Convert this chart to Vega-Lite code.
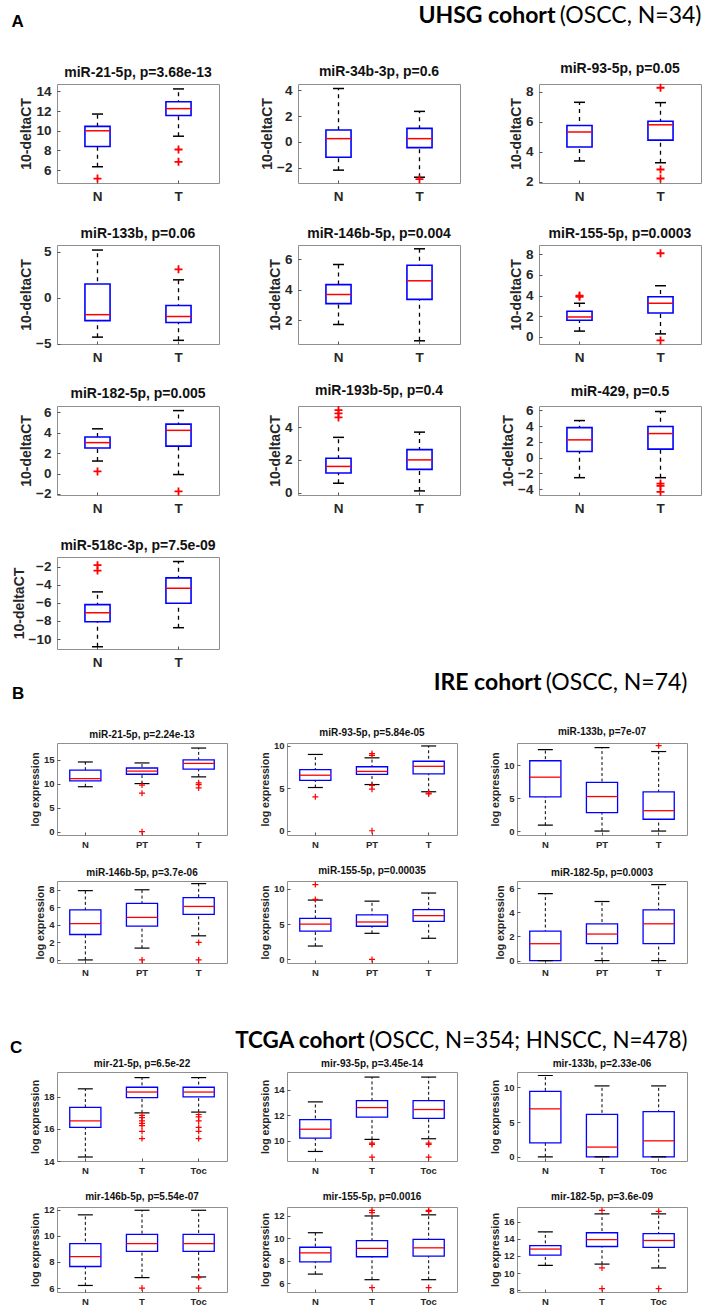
{
"$schema":"https://vega.github.io/schema/vega-lite/v6.json",
"background":"white",
"padding":{"left":9,"top":4,"right":0,"bottom":0},
"data":{"name":"d"},
"datasets":{"d":[
{"p":"A1","g":"N","lo":6.35,"q1":8.4,"md":10.0,"q3":10.45,"hi":11.7},{"p":"A1","g":"T","lo":9.45,"q1":11.55,"md":12.25,"q3":12.95,"hi":14.25},{"p":"A1","g":"N","v":5.15},{"p":"A1","g":"T","v":8.1},{"p":"A1","g":"T","v":6.85},
{"p":"A2","g":"N","lo":-2.2,"q1":-1.2,"md":0.25,"q3":0.92,"hi":4.15},{"p":"A2","g":"T","lo":-2.75,"q1":-0.45,"md":0.25,"q3":1.05,"hi":2.37},{"p":"A2","g":"T","v":-2.9},
{"p":"A3","g":"N","lo":3.37,"q1":4.3,"md":5.3,"q3":5.73,"hi":7.28},{"p":"A3","g":"T","lo":3.25,"q1":4.76,"md":5.78,"q3":6.02,"hi":7.26},{"p":"A3","g":"T","v":8.25},{"p":"A3","g":"T","v":2.8},{"p":"A3","g":"T","v":2.2},
{"p":"A4","g":"N","lo":-4.3,"q1":-2.5,"md":-1.85,"q3":1.5,"hi":5.2},{"p":"A4","g":"T","lo":-4.65,"q1":-2.7,"md":-2.05,"q3":-0.85,"hi":1.95},{"p":"A4","g":"T","v":3.1},
{"p":"A5","g":"N","lo":1.73,"q1":3.1,"md":3.7,"q3":4.35,"hi":5.67},{"p":"A5","g":"T","lo":0.66,"q1":3.38,"md":4.6,"q3":5.62,"hi":6.7},
{"p":"A6","g":"N","lo":0.55,"q1":1.6,"md":1.92,"q3":2.48,"hi":3.25},{"p":"A6","g":"N","v":4.0},{"p":"A6","g":"N","v":3.88},{"p":"A6","g":"T","lo":0.28,"q1":2.3,"md":3.25,"q3":3.88,"hi":4.95},{"p":"A6","g":"T","v":8.1},{"p":"A6","g":"T","v":-0.35},
{"p":"A7","g":"N","lo":1.22,"q1":2.5,"md":3.02,"q3":3.57,"hi":4.37},{"p":"A7","g":"N","v":0.2},{"p":"A7","g":"T","lo":-0.1,"q1":2.68,"md":4.22,"q3":4.83,"hi":6.15},{"p":"A7","g":"T","v":-1.75},
{"p":"A8","g":"N","lo":0.57,"q1":1.2,"md":1.6,"q3":2.1,"hi":3.38},{"p":"A8","g":"N","v":5.05},{"p":"A8","g":"N","v":4.85},{"p":"A8","g":"N","v":4.6},{"p":"A8","g":"T","lo":0.1,"q1":1.42,"md":2.0,"q3":2.63,"hi":3.7},
{"p":"A9","g":"N","lo":-2.55,"q1":0.78,"md":2.25,"q3":3.8,"hi":4.7},{"p":"A9","g":"T","lo":-2.55,"q1":1.08,"md":3.05,"q3":3.95,"hi":5.85},{"p":"A9","g":"T","v":-3.3},{"p":"A9","g":"T","v":-3.6},{"p":"A9","g":"T","v":-4.35},
{"p":"A10","g":"N","lo":-10.85,"q1":-8.1,"md":-7.1,"q3":-6.2,"hi":-4.8},{"p":"A10","g":"N","v":-1.85},{"p":"A10","g":"N","v":-2.45},{"p":"A10","g":"T","lo":-8.75,"q1":-6.05,"md":-4.4,"q3":-3.25,"hi":-1.45},
{"p":"B1","g":"N","lo":9.35,"q1":10.55,"md":11.05,"q3":12.8,"hi":14.5},{"p":"B1","g":"PT","lo":10.0,"q1":11.95,"md":12.6,"q3":13.25,"hi":14.3},{"p":"B1","g":"PT","v":9.7},{"p":"B1","g":"PT","v":8.0},{"p":"B1","g":"PT","v":0},{"p":"B1","g":"T","lo":11.4,"q1":13.0,"md":14.2,"q3":14.95,"hi":17.4},{"p":"B1","g":"T","v":10.15},{"p":"B1","g":"T","v":9.8},{"p":"B1","g":"T","v":9.1},
{"p":"B2","g":"N","lo":5.1,"q1":5.95,"md":6.55,"q3":7.2,"hi":9.0},{"p":"B2","g":"N","v":4.0},{"p":"B2","g":"PT","lo":5.45,"q1":6.65,"md":7.0,"q3":7.55,"hi":8.6},{"p":"B2","g":"PT","v":9.1},{"p":"B2","g":"PT","v":8.9},{"p":"B2","g":"PT","v":5.35},{"p":"B2","g":"PT","v":4.9},{"p":"B2","g":"PT","v":0},{"p":"B2","g":"T","lo":4.6,"q1":6.7,"md":7.6,"q3":8.2,"hi":10.0},{"p":"B2","g":"T","v":4.45},{"p":"B2","g":"T","v":4.35},
{"p":"B3","g":"N","lo":0.9,"q1":5.2,"md":8.2,"q3":10.7,"hi":12.4},{"p":"B3","g":"PT","lo":0,"q1":2.8,"md":5.25,"q3":7.4,"hi":12.7},{"p":"B3","g":"T","lo":0,"q1":1.8,"md":3.1,"q3":5.95,"hi":12.1},{"p":"B3","g":"T","v":13.0},
{"p":"B4","g":"N","lo":0,"q1":2.9,"md":4.15,"q3":5.7,"hi":7.9},{"p":"B4","g":"PT","lo":1.35,"q1":3.85,"md":4.85,"q3":6.45,"hi":8.0},{"p":"B4","g":"PT","v":0},{"p":"B4","g":"T","lo":2.75,"q1":5.2,"md":6.1,"q3":7.1,"hi":8.7},{"p":"B4","g":"T","v":2.0},{"p":"B4","g":"T","v":0},
{"p":"B5","g":"N","lo":1.9,"q1":4.0,"md":5.0,"q3":5.8,"hi":8.4},{"p":"B5","g":"N","v":10.6},{"p":"B5","g":"N","v":8.5},{"p":"B5","g":"PT","lo":3.7,"q1":4.7,"md":5.3,"q3":6.3,"hi":8.25},{"p":"B5","g":"PT","v":0},{"p":"B5","g":"T","lo":3.0,"q1":5.4,"md":6.2,"q3":7.05,"hi":9.4},
{"p":"B6","g":"N","lo":0,"q1":0,"md":1.4,"q3":2.45,"hi":5.55},{"p":"B6","g":"PT","lo":0,"q1":1.4,"md":2.2,"q3":3.05,"hi":4.9},{"p":"B6","g":"T","lo":0,"q1":1.4,"md":3.05,"q3":4.2,"hi":6.3},
{"p":"C1","g":"N","lo":14.25,"q1":16.1,"md":16.5,"q3":17.35,"hi":18.5},{"p":"C1","g":"T","lo":17.0,"q1":17.95,"md":18.3,"q3":18.6,"hi":19.2},{"p":"C1","g":"T","v":16.85},{"p":"C1","g":"T","v":16.7},{"p":"C1","g":"T","v":16.5},{"p":"C1","g":"T","v":16.35},{"p":"C1","g":"T","v":16.2},{"p":"C1","g":"T","v":15.85},{"p":"C1","g":"T","v":15.4},{"p":"C1","g":"Toc","lo":17.05,"q1":18.0,"md":18.3,"q3":18.6,"hi":19.2},{"p":"C1","g":"Toc","v":16.9},{"p":"C1","g":"Toc","v":16.75},{"p":"C1","g":"Toc","v":16.5},{"p":"C1","g":"Toc","v":16.1},{"p":"C1","g":"Toc","v":15.85},{"p":"C1","g":"Toc","v":15.4},
{"p":"C2","g":"N","lo":9.15,"q1":10.2,"md":10.9,"q3":11.65,"hi":13.05},{"p":"C2","g":"T","lo":10.1,"q1":11.85,"md":12.6,"q3":13.15,"hi":15.0},{"p":"C2","g":"T","v":9.8},{"p":"C2","g":"T","v":9.7},{"p":"C2","g":"T","v":8.7},{"p":"C2","g":"Toc","lo":10.15,"q1":11.75,"md":12.45,"q3":13.15,"hi":15.0},{"p":"C2","g":"Toc","v":9.8},{"p":"C2","g":"Toc","v":9.7},{"p":"C2","g":"Toc","v":8.7},
{"p":"C3","g":"N","lo":0,"q1":2.0,"md":6.9,"q3":9.4,"hi":11.7},{"p":"C3","g":"T","lo":0,"q1":0,"md":1.4,"q3":6.1,"hi":10.2},{"p":"C3","g":"Toc","lo":0,"q1":0,"md":2.3,"q3":6.5,"hi":10.2},
{"p":"C4","g":"N","lo":6.2,"q1":7.65,"md":8.4,"q3":9.4,"hi":11.6},{"p":"C4","g":"T","lo":6.8,"q1":8.8,"md":9.4,"q3":10.1,"hi":11.95},{"p":"C4","g":"T","v":6.0},{"p":"C4","g":"Toc","lo":6.85,"q1":8.8,"md":9.4,"q3":10.1,"hi":11.95},{"p":"C4","g":"Toc","v":6.8},{"p":"C4","g":"Toc","v":6.0},
{"p":"C5","g":"N","lo":6.8,"q1":7.9,"md":8.7,"q3":9.2,"hi":10.5},{"p":"C5","g":"T","lo":6.3,"q1":8.35,"md":9.1,"q3":9.8,"hi":12.0},{"p":"C5","g":"T","v":12.5},{"p":"C5","g":"T","v":12.3},{"p":"C5","g":"T","v":5.6},{"p":"C5","g":"Toc","lo":6.3,"q1":8.4,"md":9.15,"q3":9.9,"hi":12.1},{"p":"C5","g":"Toc","v":12.5},{"p":"C5","g":"Toc","v":12.4},{"p":"C5","g":"Toc","v":5.6},
{"p":"C6","g":"N","lo":10.9,"q1":12.1,"md":12.8,"q3":13.2,"hi":14.8},{"p":"C6","g":"T","lo":11.05,"q1":13.1,"md":13.9,"q3":14.7,"hi":16.9},{"p":"C6","g":"T","v":17.3},{"p":"C6","g":"T","v":10.6},{"p":"C6","g":"T","v":8.2},{"p":"C6","g":"Toc","lo":10.6,"q1":13.0,"md":13.8,"q3":14.6,"hi":16.9},{"p":"C6","g":"Toc","v":17.2},{"p":"C6","g":"Toc","v":8.2}
]},
"config":{
"font":"Liberation Sans",
"view":{"stroke":"#8f8f8f","strokeWidth":1},
"axis":{"grid":false,"domain":false,"ticks":true,"tickSize":-3,"tickColor":"#555555","tickWidth":1,"labelColor":"#262626","titleColor":"#262626","labelFont":"Liberation Sans","titleFont":"Liberation Sans","labelFontWeight":"bold","titleFontWeight":"bold","labelFontSize":9.5,"titleFontSize":10.5,"labelPadding":6,"titlePadding":3,"labelOverlap":false},
"axisX":{"labelAngle":0,"labelPadding":7},
"title":{"font":"Liberation Sans","fontSize":10,"fontWeight":"bold","color":"#111111","offset":3,"frame":"group"},
"style":{"big":{"labelFontSize":13.5,"titleFontSize":14,"labelPadding":9,"titlePadding":2}}
},
"spacing":52,
"vconcat":[
{"spacing":3,"vconcat":[
{"title":{"text":"UHSG cohort","anchor":"end","frame":"bounds","font":"Lato","fontSize":23,"fontWeight":"bold","color":"#000000","dx":-146,"offset":-23},
 "vconcat":[{"title":{"text":"(OSCC, N=34)","anchor":"end","frame":"bounds","font":"Lato","fontSize":23,"fontWeight":"normal","color":"#000000","offset":-15},
 "vconcat":[{"title":{"text":"A","anchor":"start","frame":"bounds","font":"Liberation Sans","fontSize":17,"fontWeight":"bold","color":"#000000","offset":31},
 "columns":3,"spacing":{"row":62,"column":79},"bounds":"flush",
 "concat":[
  {"width":162,"height":99,"title":{"text":"miR-21-5p, p=3.68e-13","fontSize":14,"offset":4},"transform":[{"filter":"datum.p=='A1'"}],
   "encoding":{"x":{"field":"g","type":"nominal","sort":["N","T"],"scale":{"paddingInner":0.69,"paddingOuter":0.345},"axis":{"style":"big"},"title":null}},
   "layer":[
    {"mark":{"type":"rule","color":"#000000","strokeDash":[4,4],"strokeWidth":1.3},"encoding":{"y":{"field":"lo","type":"quantitative","scale":{"domain":[4.7,14.75],"nice":false,"zero":false},"axis":{"values":[6,8,10,12,14],"tickCount":20,"format":"d","style":"big","labelOverlap":false},"title":"10-deltaCT"},"y2":{"field":"hi"}}},
    {"mark":{"type":"bar","fill":"#ffffff","stroke":"#0000ff","strokeWidth":1.6,"opacity":1},"encoding":{"y":{"field":"q1","type":"quantitative"},"y2":{"field":"q3"}}},
    {"mark":{"type":"tick","color":"#000000","size":11,"thickness":1.5,"opacity":1},"encoding":{"y":{"field":"lo","type":"quantitative"}}},
    {"mark":{"type":"tick","color":"#000000","size":11,"thickness":1.5,"opacity":1},"encoding":{"y":{"field":"hi","type":"quantitative"}}},
    {"mark":{"type":"tick","color":"#ff0000","size":25,"thickness":1.5,"opacity":1},"encoding":{"y":{"field":"md","type":"quantitative"}}},
    {"mark":{"type":"point","shape":"M-1,0L1,0M0,-1L0,1","filled":false,"color":"#ff0000","strokeWidth":1.8,"size":64,"opacity":1},"encoding":{"y":{"field":"v","type":"quantitative"}}}
   ]},
  {"width":162,"height":99,"title":{"text":"miR-34b-3p, p=0.6","fontSize":14,"offset":4},"transform":[{"filter":"datum.p=='A2'"}],
   "encoding":{"x":{"field":"g","type":"nominal","sort":["N","T"],"scale":{"paddingInner":0.69,"paddingOuter":0.345},"axis":{"style":"big"},"title":null}},
   "layer":[
    {"mark":{"type":"rule","color":"#000000","strokeDash":[4,4],"strokeWidth":1.3},"encoding":{"y":{"field":"lo","type":"quantitative","scale":{"domain":[-3.2,4.5],"nice":false,"zero":false},"axis":{"values":[-2,0,2,4],"tickCount":20,"format":"d","style":"big","labelOverlap":false},"title":"10-deltaCT"},"y2":{"field":"hi"}}},
    {"mark":{"type":"bar","fill":"#ffffff","stroke":"#0000ff","strokeWidth":1.6,"opacity":1},"encoding":{"y":{"field":"q1","type":"quantitative"},"y2":{"field":"q3"}}},
    {"mark":{"type":"tick","color":"#000000","size":11,"thickness":1.5,"opacity":1},"encoding":{"y":{"field":"lo","type":"quantitative"}}},
    {"mark":{"type":"tick","color":"#000000","size":11,"thickness":1.5,"opacity":1},"encoding":{"y":{"field":"hi","type":"quantitative"}}},
    {"mark":{"type":"tick","color":"#ff0000","size":25,"thickness":1.5,"opacity":1},"encoding":{"y":{"field":"md","type":"quantitative"}}},
    {"mark":{"type":"point","shape":"M-1,0L1,0M0,-1L0,1","filled":false,"color":"#ff0000","strokeWidth":1.8,"size":64,"opacity":1},"encoding":{"y":{"field":"v","type":"quantitative"}}}
   ]},
  {"width":162,"height":99,"title":{"text":"miR-93-5p, p=0.05","fontSize":14,"offset":4},"transform":[{"filter":"datum.p=='A3'"}],
   "encoding":{"x":{"field":"g","type":"nominal","sort":["N","T"],"scale":{"paddingInner":0.69,"paddingOuter":0.345},"axis":{"style":"big"},"title":null}},
   "layer":[
    {"mark":{"type":"rule","color":"#000000","strokeDash":[4,4],"strokeWidth":1.3},"encoding":{"y":{"field":"lo","type":"quantitative","scale":{"domain":[1.9,8.5],"nice":false,"zero":false},"axis":{"values":[2,4,6,8],"tickCount":20,"format":"d","style":"big","labelOverlap":false},"title":"10-deltaCT"},"y2":{"field":"hi"}}},
    {"mark":{"type":"bar","fill":"#ffffff","stroke":"#0000ff","strokeWidth":1.6,"opacity":1},"encoding":{"y":{"field":"q1","type":"quantitative"},"y2":{"field":"q3"}}},
    {"mark":{"type":"tick","color":"#000000","size":11,"thickness":1.5,"opacity":1},"encoding":{"y":{"field":"lo","type":"quantitative"}}},
    {"mark":{"type":"tick","color":"#000000","size":11,"thickness":1.5,"opacity":1},"encoding":{"y":{"field":"hi","type":"quantitative"}}},
    {"mark":{"type":"tick","color":"#ff0000","size":25,"thickness":1.5,"opacity":1},"encoding":{"y":{"field":"md","type":"quantitative"}}},
    {"mark":{"type":"point","shape":"M-1,0L1,0M0,-1L0,1","filled":false,"color":"#ff0000","strokeWidth":1.8,"size":64,"opacity":1},"encoding":{"y":{"field":"v","type":"quantitative"}}}
   ]},
  {"width":162,"height":99,"title":{"text":"miR-133b, p=0.06","fontSize":14,"offset":4},"transform":[{"filter":"datum.p=='A4'"}],
   "encoding":{"x":{"field":"g","type":"nominal","sort":["N","T"],"scale":{"paddingInner":0.69,"paddingOuter":0.345},"axis":{"style":"big"},"title":null}},
   "layer":[
    {"mark":{"type":"rule","color":"#000000","strokeDash":[4,4],"strokeWidth":1.3},"encoding":{"y":{"field":"lo","type":"quantitative","scale":{"domain":[-5.05,5.75],"nice":false,"zero":false},"axis":{"values":[-5,0,5],"tickCount":20,"format":"d","style":"big","labelOverlap":false},"title":"10-deltaCT"},"y2":{"field":"hi"}}},
    {"mark":{"type":"bar","fill":"#ffffff","stroke":"#0000ff","strokeWidth":1.6,"opacity":1},"encoding":{"y":{"field":"q1","type":"quantitative"},"y2":{"field":"q3"}}},
    {"mark":{"type":"tick","color":"#000000","size":11,"thickness":1.5,"opacity":1},"encoding":{"y":{"field":"lo","type":"quantitative"}}},
    {"mark":{"type":"tick","color":"#000000","size":11,"thickness":1.5,"opacity":1},"encoding":{"y":{"field":"hi","type":"quantitative"}}},
    {"mark":{"type":"tick","color":"#ff0000","size":25,"thickness":1.5,"opacity":1},"encoding":{"y":{"field":"md","type":"quantitative"}}},
    {"mark":{"type":"point","shape":"M-1,0L1,0M0,-1L0,1","filled":false,"color":"#ff0000","strokeWidth":1.8,"size":64,"opacity":1},"encoding":{"y":{"field":"v","type":"quantitative"}}}
   ]},
  {"width":162,"height":99,"title":{"text":"miR-146b-5p, p=0.004","fontSize":14,"offset":4},"transform":[{"filter":"datum.p=='A5'"}],
   "encoding":{"x":{"field":"g","type":"nominal","sort":["N","T"],"scale":{"paddingInner":0.69,"paddingOuter":0.345},"axis":{"style":"big"},"title":null}},
   "layer":[
    {"mark":{"type":"rule","color":"#000000","strokeDash":[4,4],"strokeWidth":1.3},"encoding":{"y":{"field":"lo","type":"quantitative","scale":{"domain":[0.45,6.95],"nice":false,"zero":false},"axis":{"values":[2,4,6],"tickCount":20,"format":"d","style":"big","labelOverlap":false},"title":"10-deltaCT"},"y2":{"field":"hi"}}},
    {"mark":{"type":"bar","fill":"#ffffff","stroke":"#0000ff","strokeWidth":1.6,"opacity":1},"encoding":{"y":{"field":"q1","type":"quantitative"},"y2":{"field":"q3"}}},
    {"mark":{"type":"tick","color":"#000000","size":11,"thickness":1.5,"opacity":1},"encoding":{"y":{"field":"lo","type":"quantitative"}}},
    {"mark":{"type":"tick","color":"#000000","size":11,"thickness":1.5,"opacity":1},"encoding":{"y":{"field":"hi","type":"quantitative"}}},
    {"mark":{"type":"tick","color":"#ff0000","size":25,"thickness":1.5,"opacity":1},"encoding":{"y":{"field":"md","type":"quantitative"}}},
    {"mark":{"type":"point","shape":"M-1,0L1,0M0,-1L0,1","filled":false,"color":"#ff0000","strokeWidth":1.8,"size":64,"opacity":1},"encoding":{"y":{"field":"v","type":"quantitative"}}}
   ]},
  {"width":162,"height":99,"title":{"text":"miR-155-5p, p=0.0003","fontSize":14,"offset":4},"transform":[{"filter":"datum.p=='A6'"}],
   "encoding":{"x":{"field":"g","type":"nominal","sort":["N","T"],"scale":{"paddingInner":0.69,"paddingOuter":0.345},"axis":{"style":"big"},"title":null}},
   "layer":[
    {"mark":{"type":"rule","color":"#000000","strokeDash":[4,4],"strokeWidth":1.3},"encoding":{"y":{"field":"lo","type":"quantitative","scale":{"domain":[-0.7,8.9],"nice":false,"zero":false},"axis":{"values":[0,2,4,6,8],"tickCount":20,"format":"d","style":"big","labelOverlap":false},"title":"10-deltaCT"},"y2":{"field":"hi"}}},
    {"mark":{"type":"bar","fill":"#ffffff","stroke":"#0000ff","strokeWidth":1.6,"opacity":1},"encoding":{"y":{"field":"q1","type":"quantitative"},"y2":{"field":"q3"}}},
    {"mark":{"type":"tick","color":"#000000","size":11,"thickness":1.5,"opacity":1},"encoding":{"y":{"field":"lo","type":"quantitative"}}},
    {"mark":{"type":"tick","color":"#000000","size":11,"thickness":1.5,"opacity":1},"encoding":{"y":{"field":"hi","type":"quantitative"}}},
    {"mark":{"type":"tick","color":"#ff0000","size":25,"thickness":1.5,"opacity":1},"encoding":{"y":{"field":"md","type":"quantitative"}}},
    {"mark":{"type":"point","shape":"M-1,0L1,0M0,-1L0,1","filled":false,"color":"#ff0000","strokeWidth":1.8,"size":64,"opacity":1},"encoding":{"y":{"field":"v","type":"quantitative"}}}
   ]},
  {"width":162,"height":89,"title":{"text":"miR-182-5p, p=0.005","fontSize":14,"offset":4},"transform":[{"filter":"datum.p=='A7'"}],
   "encoding":{"x":{"field":"g","type":"nominal","sort":["N","T"],"scale":{"paddingInner":0.69,"paddingOuter":0.345},"axis":{"style":"big"},"title":null}},
   "layer":[
    {"mark":{"type":"rule","color":"#000000","strokeDash":[4,4],"strokeWidth":1.3},"encoding":{"y":{"field":"lo","type":"quantitative","scale":{"domain":[-2.1,6.6],"nice":false,"zero":false},"axis":{"values":[-2,0,2,4,6],"tickCount":20,"format":"d","style":"big","labelOverlap":false},"title":"10-deltaCT"},"y2":{"field":"hi"}}},
    {"mark":{"type":"bar","fill":"#ffffff","stroke":"#0000ff","strokeWidth":1.6,"opacity":1},"encoding":{"y":{"field":"q1","type":"quantitative"},"y2":{"field":"q3"}}},
    {"mark":{"type":"tick","color":"#000000","size":11,"thickness":1.5,"opacity":1},"encoding":{"y":{"field":"lo","type":"quantitative"}}},
    {"mark":{"type":"tick","color":"#000000","size":11,"thickness":1.5,"opacity":1},"encoding":{"y":{"field":"hi","type":"quantitative"}}},
    {"mark":{"type":"tick","color":"#ff0000","size":25,"thickness":1.5,"opacity":1},"encoding":{"y":{"field":"md","type":"quantitative"}}},
    {"mark":{"type":"point","shape":"M-1,0L1,0M0,-1L0,1","filled":false,"color":"#ff0000","strokeWidth":1.8,"size":64,"opacity":1},"encoding":{"y":{"field":"v","type":"quantitative"}}}
   ]},
  {"width":162,"height":89,"title":{"text":"miR-193b-5p, p=0.4","fontSize":14,"offset":4},"transform":[{"filter":"datum.p=='A8'"}],
   "encoding":{"x":{"field":"g","type":"nominal","sort":["N","T"],"scale":{"paddingInner":0.69,"paddingOuter":0.345},"axis":{"style":"big"},"title":null}},
   "layer":[
    {"mark":{"type":"rule","color":"#000000","strokeDash":[4,4],"strokeWidth":1.3},"encoding":{"y":{"field":"lo","type":"quantitative","scale":{"domain":[-0.15,5.3],"nice":false,"zero":false},"axis":{"values":[0,2,4],"tickCount":20,"format":"d","style":"big","labelOverlap":false},"title":"10-deltaCT"},"y2":{"field":"hi"}}},
    {"mark":{"type":"bar","fill":"#ffffff","stroke":"#0000ff","strokeWidth":1.6,"opacity":1},"encoding":{"y":{"field":"q1","type":"quantitative"},"y2":{"field":"q3"}}},
    {"mark":{"type":"tick","color":"#000000","size":11,"thickness":1.5,"opacity":1},"encoding":{"y":{"field":"lo","type":"quantitative"}}},
    {"mark":{"type":"tick","color":"#000000","size":11,"thickness":1.5,"opacity":1},"encoding":{"y":{"field":"hi","type":"quantitative"}}},
    {"mark":{"type":"tick","color":"#ff0000","size":25,"thickness":1.5,"opacity":1},"encoding":{"y":{"field":"md","type":"quantitative"}}},
    {"mark":{"type":"point","shape":"M-1,0L1,0M0,-1L0,1","filled":false,"color":"#ff0000","strokeWidth":1.8,"size":64,"opacity":1},"encoding":{"y":{"field":"v","type":"quantitative"}}}
   ]},
  {"width":162,"height":89,"title":{"text":"miR-429, p=0.5","fontSize":14,"offset":4},"transform":[{"filter":"datum.p=='A9'"}],
   "encoding":{"x":{"field":"g","type":"nominal","sort":["N","T"],"scale":{"paddingInner":0.69,"paddingOuter":0.345},"axis":{"style":"big"},"title":null}},
   "layer":[
    {"mark":{"type":"rule","color":"#000000","strokeDash":[4,4],"strokeWidth":1.3},"encoding":{"y":{"field":"lo","type":"quantitative","scale":{"domain":[-4.75,6.55],"nice":false,"zero":false},"axis":{"values":[-4,-2,0,2,4,6],"tickCount":20,"format":"d","style":"big","labelOverlap":false},"title":"10-deltaCT"},"y2":{"field":"hi"}}},
    {"mark":{"type":"bar","fill":"#ffffff","stroke":"#0000ff","strokeWidth":1.6,"opacity":1},"encoding":{"y":{"field":"q1","type":"quantitative"},"y2":{"field":"q3"}}},
    {"mark":{"type":"tick","color":"#000000","size":11,"thickness":1.5,"opacity":1},"encoding":{"y":{"field":"lo","type":"quantitative"}}},
    {"mark":{"type":"tick","color":"#000000","size":11,"thickness":1.5,"opacity":1},"encoding":{"y":{"field":"hi","type":"quantitative"}}},
    {"mark":{"type":"tick","color":"#ff0000","size":25,"thickness":1.5,"opacity":1},"encoding":{"y":{"field":"md","type":"quantitative"}}},
    {"mark":{"type":"point","shape":"M-1,0L1,0M0,-1L0,1","filled":false,"color":"#ff0000","strokeWidth":1.8,"size":64,"opacity":1},"encoding":{"y":{"field":"v","type":"quantitative"}}}
   ]},
  {"width":162,"height":92,"title":{"text":"miR-518c-3p, p=7.5e-09","fontSize":14,"offset":4},"transform":[{"filter":"datum.p=='A10'"}],
   "encoding":{"x":{"field":"g","type":"nominal","sort":["N","T"],"scale":{"paddingInner":0.69,"paddingOuter":0.345},"axis":{"style":"big"},"title":null}},
   "layer":[
    {"mark":{"type":"rule","color":"#000000","strokeDash":[4,4],"strokeWidth":1.3},"encoding":{"y":{"field":"lo","type":"quantitative","scale":{"domain":[-11.1,-0.95],"nice":false,"zero":false},"axis":{"values":[-10,-8,-6,-4,-2],"tickCount":20,"format":"d","style":"big","labelOverlap":false},"title":"10-deltaCT"},"y2":{"field":"hi"}}},
    {"mark":{"type":"bar","fill":"#ffffff","stroke":"#0000ff","strokeWidth":1.6,"opacity":1},"encoding":{"y":{"field":"q1","type":"quantitative"},"y2":{"field":"q3"}}},
    {"mark":{"type":"tick","color":"#000000","size":11,"thickness":1.5,"opacity":1},"encoding":{"y":{"field":"lo","type":"quantitative"}}},
    {"mark":{"type":"tick","color":"#000000","size":11,"thickness":1.5,"opacity":1},"encoding":{"y":{"field":"hi","type":"quantitative"}}},
    {"mark":{"type":"tick","color":"#ff0000","size":25,"thickness":1.5,"opacity":1},"encoding":{"y":{"field":"md","type":"quantitative"}}},
    {"mark":{"type":"point","shape":"M-1,0L1,0M0,-1L0,1","filled":false,"color":"#ff0000","strokeWidth":1.8,"size":64,"opacity":1},"encoding":{"y":{"field":"v","type":"quantitative"}}}
   ]}
 ]}]}]},
{"title":{"text":"IRE cohort","anchor":"end","frame":"bounds","font":"Lato","fontSize":23,"fontWeight":"bold","color":"#000000","dx":-146,"offset":-23},
 "vconcat":[{"title":{"text":"(OSCC, N=74)","anchor":"end","frame":"bounds","font":"Lato","fontSize":23,"fontWeight":"normal","color":"#000000","offset":-10},
 "vconcat":[{"title":{"text":"B","anchor":"start","frame":"bounds","font":"Liberation Sans","fontSize":17,"fontWeight":"bold","color":"#000000","offset":23.5,"dx":-18},
 "columns":3,"spacing":{"row":46,"column":60},"bounds":"flush",
 "concat":[
  {"width":170,"height":92,"title":"miR-21-5p, p=2.24e-13","transform":[{"filter":"datum.p=='B1'"}],
   "encoding":{"x":{"field":"g","type":"nominal","sort":["N","PT","T"],"scale":{"paddingInner":0.45,"paddingOuter":0.225},"title":null}},
   "layer":[
    {"mark":{"type":"rule","color":"#000000","strokeDash":[3,2.5],"strokeWidth":1},"encoding":{"y":{"field":"lo","type":"quantitative","scale":{"domain":[-0.7,18.45],"nice":false,"zero":false},"axis":{"values":[0,5,10,15],"tickCount":20,"format":"d","labelOverlap":false},"title":"log expression"},"y2":{"field":"hi"}}},
    {"mark":{"type":"bar","fill":"#ffffff","stroke":"#0000ff","strokeWidth":1.3,"opacity":1},"encoding":{"y":{"field":"q1","type":"quantitative"},"y2":{"field":"q3"}}},
    {"mark":{"type":"tick","color":"#000000","size":15,"thickness":1.2,"opacity":1},"encoding":{"y":{"field":"lo","type":"quantitative"}}},
    {"mark":{"type":"tick","color":"#000000","size":15,"thickness":1.2,"opacity":1},"encoding":{"y":{"field":"hi","type":"quantitative"}}},
    {"mark":{"type":"tick","color":"#ff0000","size":31,"thickness":1.3,"opacity":1},"encoding":{"y":{"field":"md","type":"quantitative"}}},
    {"mark":{"type":"point","shape":"M-1,0L1,0M0,-1L0,1","filled":false,"color":"#ff0000","strokeWidth":1.2,"size":36,"opacity":1},"encoding":{"y":{"field":"v","type":"quantitative"}}}
   ]},
  {"width":170,"height":92,"title":"miR-93-5p, p=5.84e-05","transform":[{"filter":"datum.p=='B2'"}],
   "encoding":{"x":{"field":"g","type":"nominal","sort":["N","PT","T"],"scale":{"paddingInner":0.45,"paddingOuter":0.225},"title":null}},
   "layer":[
    {"mark":{"type":"rule","color":"#000000","strokeDash":[3,2.5],"strokeWidth":1},"encoding":{"y":{"field":"lo","type":"quantitative","scale":{"domain":[-0.5,10.35],"nice":false,"zero":false},"axis":{"values":[0,5,10],"tickCount":20,"format":"d","labelOverlap":false},"title":"log expression"},"y2":{"field":"hi"}}},
    {"mark":{"type":"bar","fill":"#ffffff","stroke":"#0000ff","strokeWidth":1.3,"opacity":1},"encoding":{"y":{"field":"q1","type":"quantitative"},"y2":{"field":"q3"}}},
    {"mark":{"type":"tick","color":"#000000","size":15,"thickness":1.2,"opacity":1},"encoding":{"y":{"field":"lo","type":"quantitative"}}},
    {"mark":{"type":"tick","color":"#000000","size":15,"thickness":1.2,"opacity":1},"encoding":{"y":{"field":"hi","type":"quantitative"}}},
    {"mark":{"type":"tick","color":"#ff0000","size":31,"thickness":1.3,"opacity":1},"encoding":{"y":{"field":"md","type":"quantitative"}}},
    {"mark":{"type":"point","shape":"M-1,0L1,0M0,-1L0,1","filled":false,"color":"#ff0000","strokeWidth":1.2,"size":36,"opacity":1},"encoding":{"y":{"field":"v","type":"quantitative"}}}
   ]},
  {"width":170,"height":92,"title":"miR-133b, p=7e-07","transform":[{"filter":"datum.p=='B3'"}],
   "encoding":{"x":{"field":"g","type":"nominal","sort":["N","PT","T"],"scale":{"paddingInner":0.45,"paddingOuter":0.225},"title":null}},
   "layer":[
    {"mark":{"type":"rule","color":"#000000","strokeDash":[3,2.5],"strokeWidth":1},"encoding":{"y":{"field":"lo","type":"quantitative","scale":{"domain":[-0.6,13.4],"nice":false,"zero":false},"axis":{"values":[0,5,10],"tickCount":20,"format":"d","labelOverlap":false},"title":"log expression"},"y2":{"field":"hi"}}},
    {"mark":{"type":"bar","fill":"#ffffff","stroke":"#0000ff","strokeWidth":1.3,"opacity":1},"encoding":{"y":{"field":"q1","type":"quantitative"},"y2":{"field":"q3"}}},
    {"mark":{"type":"tick","color":"#000000","size":15,"thickness":1.2,"opacity":1},"encoding":{"y":{"field":"lo","type":"quantitative"}}},
    {"mark":{"type":"tick","color":"#000000","size":15,"thickness":1.2,"opacity":1},"encoding":{"y":{"field":"hi","type":"quantitative"}}},
    {"mark":{"type":"tick","color":"#ff0000","size":31,"thickness":1.3,"opacity":1},"encoding":{"y":{"field":"md","type":"quantitative"}}},
    {"mark":{"type":"point","shape":"M-1,0L1,0M0,-1L0,1","filled":false,"color":"#ff0000","strokeWidth":1.2,"size":36,"opacity":1},"encoding":{"y":{"field":"v","type":"quantitative"}}}
   ]},
  {"width":170,"height":82,"title":"miR-146b-5p, p=3.7e-06","transform":[{"filter":"datum.p=='B4'"}],
   "encoding":{"x":{"field":"g","type":"nominal","sort":["N","PT","T"],"scale":{"paddingInner":0.45,"paddingOuter":0.225},"title":null}},
   "layer":[
    {"mark":{"type":"rule","color":"#000000","strokeDash":[3,2.5],"strokeWidth":1},"encoding":{"y":{"field":"lo","type":"quantitative","scale":{"domain":[-0.35,9.0],"nice":false,"zero":false},"axis":{"values":[0,2,4,6,8],"tickCount":20,"format":"d","labelOverlap":false},"title":"log expression"},"y2":{"field":"hi"}}},
    {"mark":{"type":"bar","fill":"#ffffff","stroke":"#0000ff","strokeWidth":1.3,"opacity":1},"encoding":{"y":{"field":"q1","type":"quantitative"},"y2":{"field":"q3"}}},
    {"mark":{"type":"tick","color":"#000000","size":15,"thickness":1.2,"opacity":1},"encoding":{"y":{"field":"lo","type":"quantitative"}}},
    {"mark":{"type":"tick","color":"#000000","size":15,"thickness":1.2,"opacity":1},"encoding":{"y":{"field":"hi","type":"quantitative"}}},
    {"mark":{"type":"tick","color":"#ff0000","size":31,"thickness":1.3,"opacity":1},"encoding":{"y":{"field":"md","type":"quantitative"}}},
    {"mark":{"type":"point","shape":"M-1,0L1,0M0,-1L0,1","filled":false,"color":"#ff0000","strokeWidth":1.2,"size":36,"opacity":1},"encoding":{"y":{"field":"v","type":"quantitative"}}}
   ]},
  {"width":170,"height":82,"title":"miR-155-5p, p=0.00035","transform":[{"filter":"datum.p=='B5'"}],
   "encoding":{"x":{"field":"g","type":"nominal","sort":["N","PT","T"],"scale":{"paddingInner":0.45,"paddingOuter":0.225},"title":null}},
   "layer":[
    {"mark":{"type":"rule","color":"#000000","strokeDash":[3,2.5],"strokeWidth":1},"encoding":{"y":{"field":"lo","type":"quantitative","scale":{"domain":[-0.5,11.1],"nice":false,"zero":false},"axis":{"values":[0,5,10],"tickCount":20,"format":"d","labelOverlap":false},"title":"log expression"},"y2":{"field":"hi"}}},
    {"mark":{"type":"bar","fill":"#ffffff","stroke":"#0000ff","strokeWidth":1.3,"opacity":1},"encoding":{"y":{"field":"q1","type":"quantitative"},"y2":{"field":"q3"}}},
    {"mark":{"type":"tick","color":"#000000","size":15,"thickness":1.2,"opacity":1},"encoding":{"y":{"field":"lo","type":"quantitative"}}},
    {"mark":{"type":"tick","color":"#000000","size":15,"thickness":1.2,"opacity":1},"encoding":{"y":{"field":"hi","type":"quantitative"}}},
    {"mark":{"type":"tick","color":"#ff0000","size":31,"thickness":1.3,"opacity":1},"encoding":{"y":{"field":"md","type":"quantitative"}}},
    {"mark":{"type":"point","shape":"M-1,0L1,0M0,-1L0,1","filled":false,"color":"#ff0000","strokeWidth":1.2,"size":36,"opacity":1},"encoding":{"y":{"field":"v","type":"quantitative"}}}
   ]},
  {"width":170,"height":82,"title":"miR-182-5p, p=0.0003","transform":[{"filter":"datum.p=='B6'"}],
   "encoding":{"x":{"field":"g","type":"nominal","sort":["N","PT","T"],"scale":{"paddingInner":0.45,"paddingOuter":0.225},"title":null}},
   "layer":[
    {"mark":{"type":"rule","color":"#000000","strokeDash":[3,2.5],"strokeWidth":1},"encoding":{"y":{"field":"lo","type":"quantitative","scale":{"domain":[-0.2,6.6],"nice":false,"zero":false},"axis":{"values":[0,2,4,6],"tickCount":20,"format":"d","labelOverlap":false},"title":"log expression"},"y2":{"field":"hi"}}},
    {"mark":{"type":"bar","fill":"#ffffff","stroke":"#0000ff","strokeWidth":1.3,"opacity":1},"encoding":{"y":{"field":"q1","type":"quantitative"},"y2":{"field":"q3"}}},
    {"mark":{"type":"tick","color":"#000000","size":15,"thickness":1.2,"opacity":1},"encoding":{"y":{"field":"lo","type":"quantitative"}}},
    {"mark":{"type":"tick","color":"#000000","size":15,"thickness":1.2,"opacity":1},"encoding":{"y":{"field":"hi","type":"quantitative"}}},
    {"mark":{"type":"tick","color":"#ff0000","size":31,"thickness":1.3,"opacity":1},"encoding":{"y":{"field":"md","type":"quantitative"}}},
    {"mark":{"type":"point","shape":"M-1,0L1,0M0,-1L0,1","filled":false,"color":"#ff0000","strokeWidth":1.2,"size":36,"opacity":1},"encoding":{"y":{"field":"v","type":"quantitative"}}}
   ]}
 ]}]}]}
]},
{"title":{"text":"TCGA cohort","anchor":"end","frame":"bounds","font":"Lato","fontSize":22.4,"fontWeight":"bold","color":"#000000","dx":-323,"offset":-22.4},
 "vconcat":[{"title":{"text":"(OSCC, N=354; HNSCC, N=478)","anchor":"end","frame":"bounds","font":"Lato","fontSize":22.4,"fontWeight":"normal","color":"#000000","offset":-13},
 "vconcat":[{"title":{"text":"C","anchor":"start","frame":"bounds","font":"Liberation Sans","fontSize":17,"fontWeight":"bold","color":"#000000","offset":1.5,"dx":-20},
 "columns":3,"spacing":{"row":46,"column":60},"bounds":"flush",
 "concat":[
  {"width":170,"height":89,"title":"mir-21-5p, p=6.5e-22","transform":[{"filter":"datum.p=='C1'"}],
   "encoding":{"x":{"field":"g","type":"nominal","sort":["N","T","Toc"],"scale":{"paddingInner":0.45,"paddingOuter":0.225},"title":null}},
   "layer":[
    {"mark":{"type":"rule","color":"#000000","strokeDash":[3,2.5],"strokeWidth":1},"encoding":{"y":{"field":"lo","type":"quantitative","scale":{"domain":[14.0,19.55],"nice":false,"zero":false},"axis":{"values":[14,16,18],"tickCount":20,"format":"d","labelOverlap":false},"title":"log expression"},"y2":{"field":"hi"}}},
    {"mark":{"type":"bar","fill":"#ffffff","stroke":"#0000ff","strokeWidth":1.3,"opacity":1},"encoding":{"y":{"field":"q1","type":"quantitative"},"y2":{"field":"q3"}}},
    {"mark":{"type":"tick","color":"#000000","size":15,"thickness":1.2,"opacity":1},"encoding":{"y":{"field":"lo","type":"quantitative"}}},
    {"mark":{"type":"tick","color":"#000000","size":15,"thickness":1.2,"opacity":1},"encoding":{"y":{"field":"hi","type":"quantitative"}}},
    {"mark":{"type":"tick","color":"#ff0000","size":31,"thickness":1.3,"opacity":1},"encoding":{"y":{"field":"md","type":"quantitative"}}},
    {"mark":{"type":"point","shape":"M-1,0L1,0M0,-1L0,1","filled":false,"color":"#ff0000","strokeWidth":1.2,"size":36,"opacity":1},"encoding":{"y":{"field":"v","type":"quantitative"}}}
   ]},
  {"width":170,"height":89,"title":"mir-93-5p, p=3.45e-14","transform":[{"filter":"datum.p=='C2'"}],
   "encoding":{"x":{"field":"g","type":"nominal","sort":["N","T","Toc"],"scale":{"paddingInner":0.45,"paddingOuter":0.225},"title":null}},
   "layer":[
    {"mark":{"type":"rule","color":"#000000","strokeDash":[3,2.5],"strokeWidth":1},"encoding":{"y":{"field":"lo","type":"quantitative","scale":{"domain":[8.4,15.4],"nice":false,"zero":false},"axis":{"values":[10,12,14],"tickCount":20,"format":"d","labelOverlap":false},"title":"log expression"},"y2":{"field":"hi"}}},
    {"mark":{"type":"bar","fill":"#ffffff","stroke":"#0000ff","strokeWidth":1.3,"opacity":1},"encoding":{"y":{"field":"q1","type":"quantitative"},"y2":{"field":"q3"}}},
    {"mark":{"type":"tick","color":"#000000","size":15,"thickness":1.2,"opacity":1},"encoding":{"y":{"field":"lo","type":"quantitative"}}},
    {"mark":{"type":"tick","color":"#000000","size":15,"thickness":1.2,"opacity":1},"encoding":{"y":{"field":"hi","type":"quantitative"}}},
    {"mark":{"type":"tick","color":"#ff0000","size":31,"thickness":1.3,"opacity":1},"encoding":{"y":{"field":"md","type":"quantitative"}}},
    {"mark":{"type":"point","shape":"M-1,0L1,0M0,-1L0,1","filled":false,"color":"#ff0000","strokeWidth":1.2,"size":36,"opacity":1},"encoding":{"y":{"field":"v","type":"quantitative"}}}
   ]},
  {"width":170,"height":89,"title":"mir-133b, p=2.33e-06","transform":[{"filter":"datum.p=='C3'"}],
   "encoding":{"x":{"field":"g","type":"nominal","sort":["N","T","Toc"],"scale":{"paddingInner":0.45,"paddingOuter":0.225},"title":null}},
   "layer":[
    {"mark":{"type":"rule","color":"#000000","strokeDash":[3,2.5],"strokeWidth":1},"encoding":{"y":{"field":"lo","type":"quantitative","scale":{"domain":[-0.6,12.2],"nice":false,"zero":false},"axis":{"values":[0,5,10],"tickCount":20,"format":"d","labelOverlap":false},"title":"log expression"},"y2":{"field":"hi"}}},
    {"mark":{"type":"bar","fill":"#ffffff","stroke":"#0000ff","strokeWidth":1.3,"opacity":1},"encoding":{"y":{"field":"q1","type":"quantitative"},"y2":{"field":"q3"}}},
    {"mark":{"type":"tick","color":"#000000","size":15,"thickness":1.2,"opacity":1},"encoding":{"y":{"field":"lo","type":"quantitative"}}},
    {"mark":{"type":"tick","color":"#000000","size":15,"thickness":1.2,"opacity":1},"encoding":{"y":{"field":"hi","type":"quantitative"}}},
    {"mark":{"type":"tick","color":"#ff0000","size":31,"thickness":1.3,"opacity":1},"encoding":{"y":{"field":"md","type":"quantitative"}}},
    {"mark":{"type":"point","shape":"M-1,0L1,0M0,-1L0,1","filled":false,"color":"#ff0000","strokeWidth":1.2,"size":36,"opacity":1},"encoding":{"y":{"field":"v","type":"quantitative"}}}
   ]},
  {"width":170,"height":85,"title":"mir-146b-5p, p=5.54e-07","transform":[{"filter":"datum.p=='C4'"}],
   "encoding":{"x":{"field":"g","type":"nominal","sort":["N","T","Toc"],"scale":{"paddingInner":0.45,"paddingOuter":0.225},"title":null}},
   "layer":[
    {"mark":{"type":"rule","color":"#000000","strokeDash":[3,2.5],"strokeWidth":1},"encoding":{"y":{"field":"lo","type":"quantitative","scale":{"domain":[5.7,12.2],"nice":false,"zero":false},"axis":{"values":[6,8,10,12],"tickCount":20,"format":"d","labelOverlap":false},"title":"log expression"},"y2":{"field":"hi"}}},
    {"mark":{"type":"bar","fill":"#ffffff","stroke":"#0000ff","strokeWidth":1.3,"opacity":1},"encoding":{"y":{"field":"q1","type":"quantitative"},"y2":{"field":"q3"}}},
    {"mark":{"type":"tick","color":"#000000","size":15,"thickness":1.2,"opacity":1},"encoding":{"y":{"field":"lo","type":"quantitative"}}},
    {"mark":{"type":"tick","color":"#000000","size":15,"thickness":1.2,"opacity":1},"encoding":{"y":{"field":"hi","type":"quantitative"}}},
    {"mark":{"type":"tick","color":"#ff0000","size":31,"thickness":1.3,"opacity":1},"encoding":{"y":{"field":"md","type":"quantitative"}}},
    {"mark":{"type":"point","shape":"M-1,0L1,0M0,-1L0,1","filled":false,"color":"#ff0000","strokeWidth":1.2,"size":36,"opacity":1},"encoding":{"y":{"field":"v","type":"quantitative"}}}
   ]},
  {"width":170,"height":85,"title":"mir-155-5p, p=0.0016","transform":[{"filter":"datum.p=='C5'"}],
   "encoding":{"x":{"field":"g","type":"nominal","sort":["N","T","Toc"],"scale":{"paddingInner":0.45,"paddingOuter":0.225},"title":null}},
   "layer":[
    {"mark":{"type":"rule","color":"#000000","strokeDash":[3,2.5],"strokeWidth":1},"encoding":{"y":{"field":"lo","type":"quantitative","scale":{"domain":[5.2,12.8],"nice":false,"zero":false},"axis":{"values":[6,8,10,12],"tickCount":20,"format":"d","labelOverlap":false},"title":"log expression"},"y2":{"field":"hi"}}},
    {"mark":{"type":"bar","fill":"#ffffff","stroke":"#0000ff","strokeWidth":1.3,"opacity":1},"encoding":{"y":{"field":"q1","type":"quantitative"},"y2":{"field":"q3"}}},
    {"mark":{"type":"tick","color":"#000000","size":15,"thickness":1.2,"opacity":1},"encoding":{"y":{"field":"lo","type":"quantitative"}}},
    {"mark":{"type":"tick","color":"#000000","size":15,"thickness":1.2,"opacity":1},"encoding":{"y":{"field":"hi","type":"quantitative"}}},
    {"mark":{"type":"tick","color":"#ff0000","size":31,"thickness":1.3,"opacity":1},"encoding":{"y":{"field":"md","type":"quantitative"}}},
    {"mark":{"type":"point","shape":"M-1,0L1,0M0,-1L0,1","filled":false,"color":"#ff0000","strokeWidth":1.2,"size":36,"opacity":1},"encoding":{"y":{"field":"v","type":"quantitative"}}}
   ]},
  {"width":170,"height":85,"title":"mir-182-5p, p=3.6e-09","transform":[{"filter":"datum.p=='C6'"}],
   "encoding":{"x":{"field":"g","type":"nominal","sort":["N","T","Toc"],"scale":{"paddingInner":0.45,"paddingOuter":0.225},"title":null}},
   "layer":[
    {"mark":{"type":"rule","color":"#000000","strokeDash":[3,2.5],"strokeWidth":1},"encoding":{"y":{"field":"lo","type":"quantitative","scale":{"domain":[7.8,17.7],"nice":false,"zero":false},"axis":{"values":[8,10,12,14,16],"tickCount":20,"format":"d","labelOverlap":false},"title":"log expression"},"y2":{"field":"hi"}}},
    {"mark":{"type":"bar","fill":"#ffffff","stroke":"#0000ff","strokeWidth":1.3,"opacity":1},"encoding":{"y":{"field":"q1","type":"quantitative"},"y2":{"field":"q3"}}},
    {"mark":{"type":"tick","color":"#000000","size":15,"thickness":1.2,"opacity":1},"encoding":{"y":{"field":"lo","type":"quantitative"}}},
    {"mark":{"type":"tick","color":"#000000","size":15,"thickness":1.2,"opacity":1},"encoding":{"y":{"field":"hi","type":"quantitative"}}},
    {"mark":{"type":"tick","color":"#ff0000","size":31,"thickness":1.3,"opacity":1},"encoding":{"y":{"field":"md","type":"quantitative"}}},
    {"mark":{"type":"point","shape":"M-1,0L1,0M0,-1L0,1","filled":false,"color":"#ff0000","strokeWidth":1.2,"size":36,"opacity":1},"encoding":{"y":{"field":"v","type":"quantitative"}}}
   ]}
 ]}]}]}
]
}
